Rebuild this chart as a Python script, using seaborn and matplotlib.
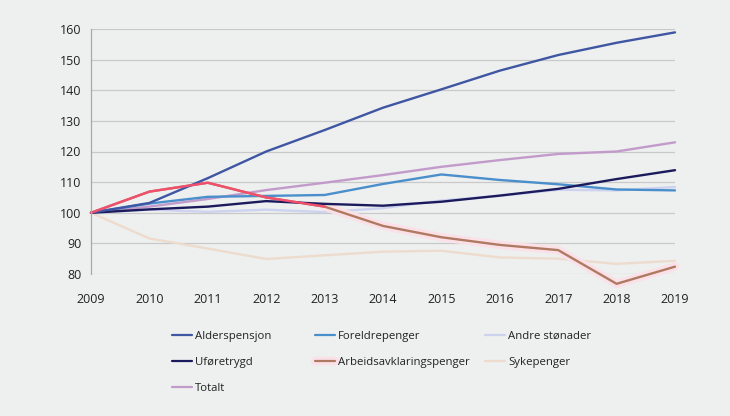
import pandas as pd
import seaborn as sns
import matplotlib.pyplot as plt
from matplotlib.lines import Line2D
import matplotlib.patheffects as pe

years = list(range(2009, 2020))

alderspensjon = [100, 103.2, 111.3, 120.0, 127.0, 134.3, 140.3, 146.4, 151.5, 155.5, 158.9]
foreldrepenger = [100, 103.0, 105.2, 105.5, 105.8, 109.4, 112.5, 110.7, 109.3, 107.6, 107.3]
andre_stonader = [100, 101.0, 100.3, 101.0, 100.2, 101.5, 104.0, 105.5, 107.5, 107.3, 108.4]
uforetrygd = [100, 101.1, 102.0, 103.8, 102.9, 102.3, 103.6, 105.6, 107.8, 111.0, 113.9]
aap = [100, 106.9, 109.8, 105.0, 102.0, 95.7, 92.0, 89.5, 87.8, 76.8, 82.4]
sykepenger = [100, 91.6, 88.3, 84.9, 86.1, 87.3, 87.6, 85.4, 85.0, 83.3, 84.3]
totalt = [100, 102.0, 104.5, 107.4, 109.8, 112.3, 115.0, 117.2, 119.2, 120.0, 123.0]

series = {
    "Alderspensjon": alderspensjon,
    "Foreldrepenger": foreldrepenger,
    "Andre stønader": andre_stonader,
    "Uføretrygd": uforetrygd,
    "Arbeidsavklaringspenger": aap,
    "Sykepenger": sykepenger,
    "Totalt": totalt,
}
colors = {
    "Alderspensjon": "#3f56a3",
    "Foreldrepenger": "#4a8fcb",
    "Andre stønader": "#cdd3ef",
    "Uføretrygd": "#1b1a5c",
    "Arbeidsavklaringspenger": "#b07a62",
    "Sykepenger": "#eddccd",
    "Totalt": "#c29bcb",
}
aap_early_color = "#f24f6c"
halo_color = "#fbe1e7"
draw_order = ["Andre stønader", "Sykepenger", "Totalt", "Foreldrepenger",
              "Arbeidsavklaringspenger", "Uføretrygd", "Alderspensjon"]

rows = []
for name, vals in series.items():
    for yr, v in zip(years, vals):
        rows.append({"year": yr, "value": v, "series": name})
df = pd.DataFrame(rows)

sns.set_theme(style="white")
plt.rcParams["font.family"] = ["Open Sans", "DejaVu Sans"]
bg = "#eeefef"

fig = plt.figure(figsize=(7.3, 4.16), dpi=100, facecolor=bg)
ax = fig.add_axes([91 / 730, 1 - 274 / 416, (675 - 91) / 730, (274 - 29) / 416])
ax.set_facecolor(bg)

is_aap = df.series == "Arbeidsavklaringspenger"
for name in draw_order:
    if name == "Arbeidsavklaringspenger":
        sns.lineplot(data=df[is_aap & (df.year >= 2013)], x="year", y="value",
                     color=halo_color, linewidth=6, ax=ax, legend=False)
    sns.lineplot(data=df[df.series == name], x="year", y="value", color=colors[name],
                 linewidth=1.7, ax=ax, legend=False)

sns.lineplot(data=df[is_aap & (df.year <= 2013)], x="year", y="value",
             color=aap_early_color, linewidth=1.7, ax=ax, legend=False)

for line in ax.lines:
    line.set_clip_on(False)

ax.set_xlim(2009, 2019)
ax.set_ylim(80, 160)
ax.set_yticks(range(80, 161, 10))
ax.set_xticks(years)
ax.set_xlabel("")
ax.set_ylabel("")
ax.grid(axis="y", color="#c9c9c9", linewidth=0.9)
ax.grid(axis="x", visible=False)
for s in ["top", "right", "bottom"]:
    ax.spines[s].set_visible(False)
ax.spines["left"].set_color("#a9a9a9")
ax.spines["left"].set_linewidth(0.9)
ax.tick_params(axis="y", length=4, color="#a9a9a9", labelsize=9, labelcolor="#222222", pad=3)
ax.tick_params(axis="x", length=0, labelsize=9, labelcolor="#222222", pad=14)

columns = [
    ["Alderspensjon", "Uføretrygd", "Totalt"],
    ["Foreldrepenger", "Arbeidsavklaringspenger"],
    ["Andre stønader", "Sykepenger"],
]
col_x = [166, 309, 479]
for names, xpx in zip(columns, col_x):
    handles = []
    for n in names:
        kw = {}
        if n == "Arbeidsavklaringspenger":
            kw["path_effects"] = [pe.Stroke(linewidth=6, foreground=halo_color), pe.Normal()]
        handles.append(Line2D([], [], color=colors[n], linewidth=1.6, **kw))
    fig.legend(handles, names, loc="upper left",
               bbox_to_anchor=(xpx / 730, 1 - 325 / 416),
               frameon=False, fontsize=8.2, handlelength=1.8, handletextpad=0.25,
               labelspacing=1.35, borderpad=0, labelcolor="#222222")

fig.savefig("out.png", dpi=100, facecolor=bg)
